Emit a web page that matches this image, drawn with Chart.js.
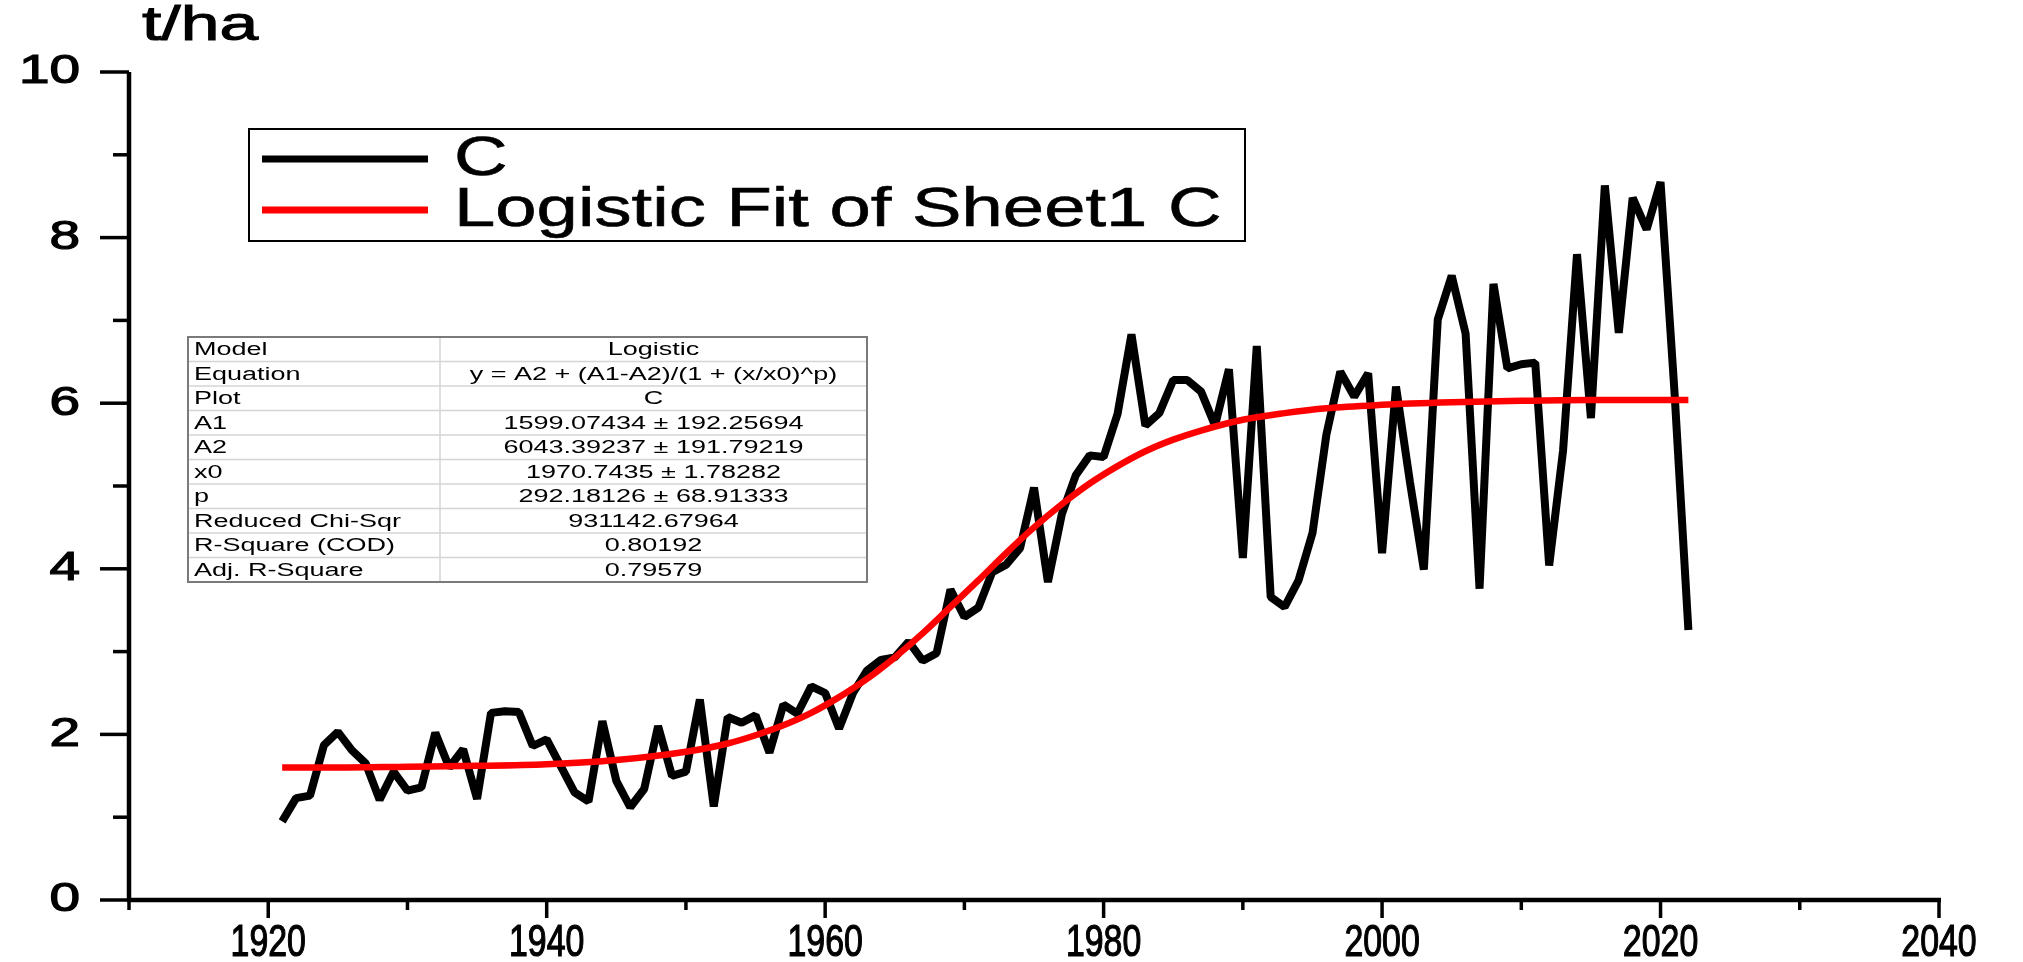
<!DOCTYPE html>
<html>
<head>
<meta charset="utf-8">
<title>C - Logistic Fit</title>
<script src="https://cdn.jsdelivr.net/npm/chart.js@4.4.0/dist/chart.umd.min.js"></script>
<style>
    html, body { margin: 0; padding: 0; background: #fff; }
    #wrap { position: relative; width: 2023px; height: 962px; }
</style>
</head>
<body>
<div id="wrap"><canvas id="yieldChart"></canvas></div>
<script>
// yield series C, t/ha
const years = [
    1921, 1922, 1923, 1924, 1925, 1926, 1927, 1928, 1929, 1930,
    1931, 1932, 1933, 1934, 1935, 1936, 1937, 1938, 1939, 1940,
    1941, 1942, 1943, 1944, 1945, 1946, 1947, 1948, 1949, 1950,
    1951, 1952, 1953, 1954, 1955, 1956, 1957, 1958, 1959, 1960,
    1961, 1962, 1963, 1964, 1965, 1966, 1967, 1968, 1969, 1970,
    1971, 1972, 1973, 1974, 1975, 1976, 1977, 1978, 1979, 1980,
    1981, 1982, 1983, 1984, 1985, 1986, 1987, 1988, 1989, 1990,
    1991, 1992, 1993, 1994, 1995, 1996, 1997, 1998, 1999, 2000,
    2001, 2002, 2003, 2004, 2005, 2006, 2007, 2008, 2009, 2010,
    2011, 2012, 2013, 2014, 2015, 2016, 2017, 2018, 2019, 2020,
    2021, 2022
];
const yieldC = [
    0.95, 1.23, 1.26, 1.87, 2.03, 1.81, 1.65, 1.21, 1.55, 1.32,
    1.36, 2.02, 1.60, 1.82, 1.22, 2.26, 2.28, 2.27, 1.86, 1.94,
    1.62, 1.30, 1.19, 2.16, 1.44, 1.12, 1.34, 2.10, 1.50, 1.55,
    2.42, 1.13, 2.21, 2.14, 2.23, 1.78, 2.36, 2.25, 2.58, 2.50,
    2.07, 2.50, 2.77, 2.90, 2.93, 3.12, 2.89, 2.98, 3.75, 3.42,
    3.53, 3.96, 4.05, 4.25, 4.98, 3.84, 4.66, 5.13, 5.37, 5.35,
    5.87, 6.83, 5.73, 5.88, 6.28, 6.28, 6.14, 5.73, 6.41, 4.13,
    6.69, 3.66, 3.54, 3.86, 4.43, 5.62, 6.38, 6.08, 6.36, 4.19,
    6.20, 5.05, 3.99, 7.01, 7.54, 6.84, 3.76, 7.44, 6.42, 6.47,
    6.49, 4.04, 5.43, 7.80, 5.82, 8.63, 6.85, 8.48, 8.10, 8.67,
    6.14, 3.26
];

// logistic fit curve
const fitYears = [
    1921, 1925, 1930, 1935, 1940, 1945, 1950, 1953, 1955, 1957,
    1959, 1961, 1963, 1965, 1967, 1969, 1971, 1973, 1975, 1977,
    1979, 1981, 1983, 1985, 1987, 1990, 1993, 1996, 2000, 2005,
    2010, 2015, 2022
];
const fitValues = [
    1.60, 1.60, 1.61, 1.62, 1.64, 1.69, 1.79, 1.89, 1.99, 2.11,
    2.26, 2.45, 2.67, 2.93, 3.22, 3.54, 3.86, 4.19, 4.50, 4.78,
    5.03, 5.24, 5.42, 5.56, 5.67, 5.80, 5.88, 5.94, 5.98, 6.01,
    6.03, 6.04, 6.04
];

const xMajorTicks = [1920, 1940, 1960, 1980, 2000, 2020, 2040];
const xMinorTicks = [1910, 1930, 1950, 1970, 1990, 2010, 2030];
const yMajorTicks = [0, 2, 4, 6, 8, 10];
const yMinorTicks = [1, 3, 5, 7, 9];

const unitLabel = 't/ha';
const legendLabels = ['C', 'Logistic Fit of Sheet1 C'];
const tableRows = [
    ['Model', 'Logistic'],
    ['Equation', 'y = A2 + (A1-A2)/(1 + (x/x0)^p)'],
    ['Plot', 'C'],
    ['A1', '1599.07434 \u00b1 192.25694'],
    ['A2', '6043.39237 \u00b1 191.79219'],
    ['x0', '1970.7435 \u00b1 1.78282'],
    ['p', '292.18126 \u00b1 68.91333'],
    ['Reduced Chi-Sqr', '931142.67964'],
    ['R-Square (COD)', '0.80192'],
    ['Adj. R-Square', '0.79579']
];

const FONT = '"Liberation Sans", Arial, sans-serif';

// Origin export is stretched sideways, so text gets a horizontal scale
function drawText(ctx, text, x, y, size, sx, align, heavy) {
    ctx.save();
    ctx.font = size + 'px ' + FONT;
    ctx.fillStyle = '#000';
    ctx.textBaseline = 'middle';
    ctx.textAlign = align;
    ctx.translate(x, y);
    ctx.scale(sx, 1);
    ctx.fillText(text, 0, 0);
    if (heavy) {
        ctx.strokeStyle = '#000';
        ctx.lineWidth = heavy;
        ctx.strokeText(text, 0, 0);
    }
    ctx.restore();
}

function seg(ctx, x1, y1, x2, y2) {
    ctx.beginPath();
    ctx.moveTo(x1, y1);
    ctx.lineTo(x2, y2);
    ctx.stroke();
}

const originAxes = {
    id: 'originAxes',
    beforeDatasetsDraw(chart) {
        const ctx = chart.ctx;
        const xs = chart.scales.x, ys = chart.scales.y;
        const left = xs.getPixelForValue(1910), right = xs.getPixelForValue(2040);
        const bottom = ys.getPixelForValue(0), top = ys.getPixelForValue(10);

        ctx.save();
        ctx.strokeStyle = '#000';
        ctx.lineCap = 'butt';
        ctx.lineWidth = 4.5;
        seg(ctx, left, top, left, bottom + 2);
        seg(ctx, left - 2, bottom, right + 2, bottom);

        ctx.lineWidth = 3.5;
        yMajorTicks.forEach(v => {
            const y = ys.getPixelForValue(v);
            seg(ctx, left - 29, y, left, y);
            drawText(ctx, String(v), left - 49, y, 41, 1.34, 'right', 1.2);
        });
        yMinorTicks.forEach(v => {
            const y = ys.getPixelForValue(v);
            seg(ctx, left - 16, y, left, y);
        });
        xMajorTicks.forEach(v => {
            const x = xs.getPixelForValue(v);
            seg(ctx, x, bottom, x, bottom + 18);
            drawText(ctx, String(v), x, bottom + 44, 44, 0.77, 'center', 1.2);
        });
        xMinorTicks.forEach(v => {
            const x = xs.getPixelForValue(v);
            seg(ctx, x, bottom, x, bottom + 10);
        });

        drawText(ctx, unitLabel, 142, 27, 48, 1.45, 'left', 1);
        ctx.restore();
    },
    afterDraw(chart) {
        const ctx = chart.ctx;
        ctx.save();

        // legend box
        ctx.fillStyle = '#fff';
        ctx.fillRect(249, 129, 996, 112);
        ctx.strokeStyle = '#000';
        ctx.lineWidth = 2;
        ctx.strokeRect(249, 129, 996, 112);
        const rowsY = [159, 210];
        const colors = ['#000000', '#ff0000'];
        legendLabels.forEach((lab, i) => {
            ctx.strokeStyle = colors[i];
            ctx.lineWidth = 7;
            seg(ctx, 262, rowsY[i], 428, rowsY[i]);
            drawText(ctx, lab, 454, rowsY[i] + 1, 55, 1.35, 'left', 0.6);
        });

        // fit statistics table
        const tx = 188, ty = 337, tw = 679, rh = 24.5, colX = 440;
        const th = rh * tableRows.length;
        ctx.fillStyle = '#fff';
        ctx.fillRect(tx, ty, tw, th);
        ctx.strokeStyle = '#d4d4d4';
        ctx.lineWidth = 1.5;
        for (let i = 1; i < tableRows.length; i++) {
            seg(ctx, tx, ty + i * rh, tx + tw, ty + i * rh);
        }
        seg(ctx, colX, ty, colX, ty + th);
        ctx.strokeStyle = '#7a7a7a';
        ctx.lineWidth = 2;
        ctx.strokeRect(tx, ty, tw, th);
        tableRows.forEach((row, i) => {
            const cy = ty + i * rh + rh / 2 + 1;
            drawText(ctx, row[0], tx + 6, cy, 18, 1.5, 'left');
            drawText(ctx, row[1], (colX + tx + tw) / 2, cy, 18, 1.5, 'center');
        });
        ctx.restore();
    }
};

const ctx = document.getElementById('yieldChart').getContext('2d');
new Chart(ctx, {
    type: 'line',
    data: {
        datasets: [
            {
                label: legendLabels[1],
                data: fitYears.map((x, i) => ({x: x, y: fitValues[i]})),
                borderColor: '#ff0000',
                borderWidth: 6.5,
                pointRadius: 0,
                cubicInterpolationMode: 'monotone',
                order: 0
            },
            {
                label: legendLabels[0],
                data: years.map((x, i) => ({x: x, y: yieldC[i]})),
                borderColor: '#000000',
                borderWidth: 8,
                borderJoinStyle: 'bevel',
                pointRadius: 0,
                tension: 0,
                order: 1
            }
        ]
    },
    options: {
        responsive: true,
        maintainAspectRatio: false,
        animation: false,
        layout: {
            padding: {left: 129, right: 84, top: 72, bottom: 62}
        },
        plugins: {
            legend: {display: false},
            tooltip: {enabled: false}
        },
        scales: {
            x: {type: 'linear', min: 1910, max: 2040, display: false},
            y: {type: 'linear', min: 0, max: 10, display: false}
        }
    },
    plugins: [originAxes]
});
</script>
</body>
</html>
